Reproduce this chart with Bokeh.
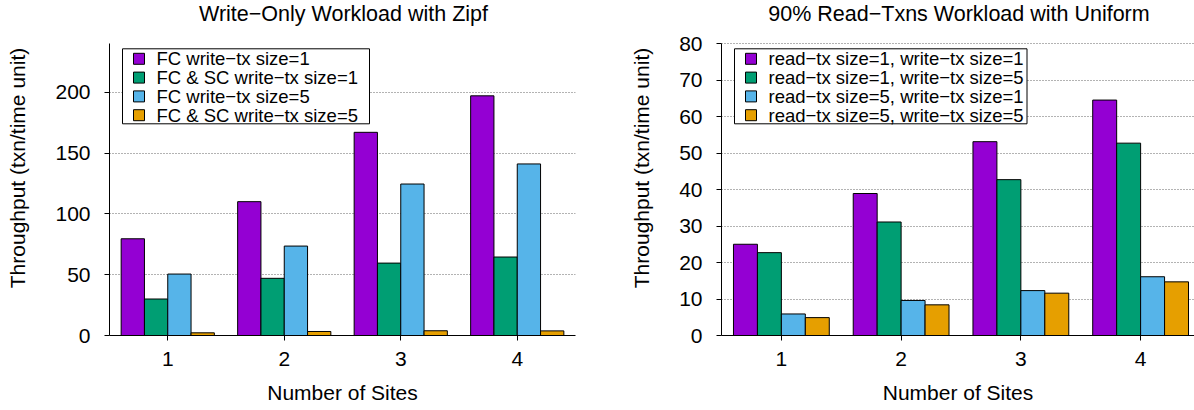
from bokeh.plotting import figure
from bokeh.layouts import row
from bokeh.models import Range1d, FixedTicker, BoxAnnotation, Label
from bokeh.embed import file_html
from bokeh.resources import INLINE

# ---- data -------------------------------------------------------------
sites = [1, 2, 3, 4]

# Write-only workload with Zipf
zipf_series = [
    "FC write−tx size=1",
    "FC & SC write−tx size=1",
    "FC write−tx size=5",
    "FC & SC write−tx size=5",
]
fc_w1 = [79.5, 110, 167, 197]
fcsc_w1 = [30, 47, 59.5, 64.5]
fc_w5 = [50.5, 73.5, 124.5, 141]
fcsc_w5 = [2.2, 3.3, 3.9, 3.8]

# 90% read-txns workload with uniform
uni_series = [
    "read−tx size=1, write−tx size=1",
    "read−tx size=1, write−tx size=5",
    "read−tx size=5, write−tx size=1",
    "read−tx size=5, write−tx size=5",
]
r1_w1 = [25, 38.9, 53.1, 64.5]
r1_w5 = [22.7, 31.1, 42.7, 52.7]
r5_w1 = [5.9, 9.6, 12.3, 16.1]
r5_w5 = [4.9, 8.4, 11.6, 14.7]

left_ticks = [0, 50, 100, 150, 200]
right_ticks = [0, 10, 20, 30, 40, 50, 60, 70, 80]

colors = ["#9400D3", "#009E73", "#56B4E9", "#E69F00"]
offsets = [-0.3, -0.1, 0.1, 0.3]
bar_w = 0.2
FONT = "Liberation Sans"

# vertical layout (pixels): heading strip on top, axes below it
FIG_H = 410
BOTTOM = 75
HEAD = 43
FRAME_H = FIG_H - BOTTOM          # frame reaches the top of the canvas
AXIS_H = FRAME_H - HEAD           # part of the frame used by the y axis


def screen_box(**kw):
    return BoxAnnotation(left_units="screen", right_units="screen",
                         top_units="screen", bottom_units="screen",
                         fill_alpha=1.0, line_color="black", line_alpha=1.0,
                         line_width=1, line_dash="solid", level="overlay",
                         **kw)


def add_key(p, names, box_right):
    """Boxed key in the upper-left corner, placed in frame pixels."""
    top = AXIS_H - 5.3
    bottom = top - 75
    p.add_layout(screen_box(left=13, right=box_right, top=top,
                            bottom=bottom, fill_color="white"))
    for i, (name, col) in enumerate(zip(names, colors)):
        cy = top - 10 - i * 18.8
        p.add_layout(screen_box(left=24, right=35, top=cy + 5.5,
                                bottom=cy - 5.5, fill_color=col))
        p.add_layout(Label(
            x=47, y=cy, x_units="screen", y_units="screen", text=name,
            text_font=FONT, text_font_size="18.5px", text_color="black",
            text_baseline="middle", text_align="left", level="overlay"))


def make_panel(title, series_names, series_vals, y_top, y_ticks, x_end,
               width, border_left, border_right, key_right):
    y_end = y_top * FRAME_H / AXIS_H
    p = figure(width=width, height=FIG_H, output_backend="svg",
               toolbar_location=None,
               x_range=Range1d(0.5, x_end), y_range=Range1d(0, y_end),
               min_border_left=border_left, min_border_right=border_right,
               min_border_top=0, min_border_bottom=BOTTOM)
    p.outline_line_color = None
    p.background_fill_color = "white"
    p.border_fill_color = "white"

    for vals, off, col in zip(series_vals, offsets, colors):
        xs = [s + off for s in sites]
        p.vbar(x=xs, top=vals, width=bar_w, bottom=0,
               fill_color=col, line_color="black", line_width=1)

    p.xaxis.ticker = FixedTicker(ticks=sites)
    p.yaxis.ticker = FixedTicker(ticks=y_ticks)
    p.yaxis.bounds = (0, y_top)
    p.xgrid.grid_line_color = None
    p.ygrid.grid_line_color = "#666666"
    p.ygrid.grid_line_dash = "1 2"
    p.ygrid.grid_line_width = 1

    for ax in (p.xaxis[0], p.yaxis[0]):
        ax.axis_line_color = "black"
        ax.axis_line_width = 1
        ax.major_tick_line_color = "black"
        ax.major_tick_out = 5
        ax.major_tick_in = 0
        ax.minor_tick_line_color = None
        ax.major_label_text_font = FONT
        ax.major_label_text_font_size = "21px"
        ax.major_label_text_color = "black"
        ax.axis_label_text_font = FONT
        ax.axis_label_text_font_size = "21px"
        ax.axis_label_text_font_style = "normal"
        ax.axis_label_text_color = "black"

    p.xaxis.axis_label = "Number of Sites"
    p.xaxis.major_label_standoff = 11
    p.xaxis.axis_label_standoff = 12
    p.yaxis.axis_label = "Throughput (txn/time unit)"
    p.yaxis.major_label_standoff = 14
    p.yaxis.axis_label_standoff = 23

    # chart heading, centred over the plotting area
    frame_w = width - border_left - border_right
    p.add_layout(Label(
        x=frame_w / 2 + 1, y=FRAME_H - 13, x_units="screen",
        y_units="screen", text=title, text_font=FONT,
        text_font_size="21.5px", text_color="black", text_align="center",
        text_baseline="alphabetic", level="overlay"))

    add_key(p, series_names, key_right)
    return p


p1 = make_panel("Write−Only Workload with Zipf", zipf_series,
                [fc_w1, fcsc_w1, fc_w5, fcsc_w5], 240, left_ticks, 4.5,
                600, 109, 25, 260)
p2 = make_panel("90% Read−Txns Workload with Uniform", uni_series,
                [r1_w1, r1_w5, r5_w1, r5_w5], 80, right_ticks, 4.45,
                594, 121, 0, 305.5)

layout = row(p1, p2)
open("out.html", "w").write(file_html(layout, INLINE))
